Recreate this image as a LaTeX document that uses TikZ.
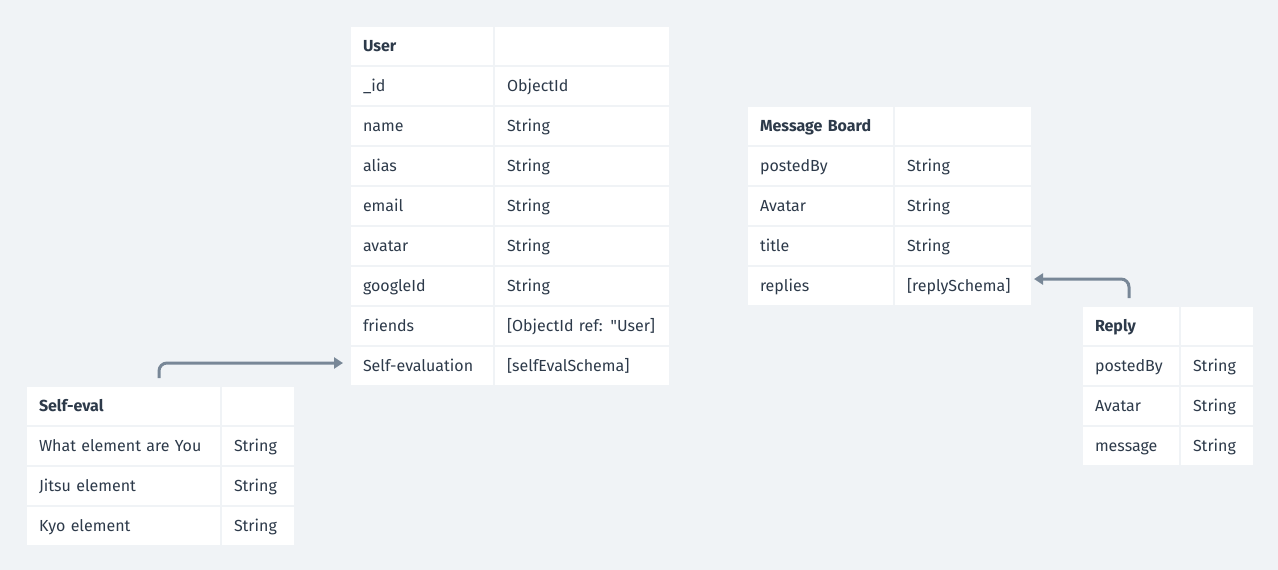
\documentclass[tikz,border=0pt]{standalone}
\usepackage{fontspec}
\newfontfamily\ff{Fira Sans}
\usetikzlibrary{arrows.meta}
\definecolor{bgc}{HTML}{F0F3F6}
\definecolor{txt}{HTML}{2D3A4A}
\definecolor{arr}{HTML}{788797}
\tikzset{
  cell/.style={rectangle, fill=white, draw=bgc, line width=2pt, anchor=north west,
    minimum height=40pt, inner xsep=13pt, inner ysep=0pt, align=left,
    text height=13pt, text depth=2pt,
    text=txt, font=\ff\fontsize{16}{18}\selectfont},
  hdr/.style={cell, font=\ff\fontsize{16}{18}\selectfont\bfseries},
  conn/.style={draw=arr, line width=3pt, rounded corners=8pt, -{Triangle[length=9pt,width=11pt]}}
}
\begin{document}
\begin{tikzpicture}[x=1pt,y=-1pt]
\fill[bgc] (0,0) rectangle (1278,570);
\useasboundingbox (0,0) rectangle (1278,570);
% User table
\node[hdr, text width=118pt] (u0a) at (349,25) {User};
\node[cell, text width=150pt] (u0b) at (493,25) {};
\node[cell, text width=118pt] (u1a) at (349,65) {\_id};
\node[cell, text width=150pt] (u1b) at (493,65) {ObjectId};
\node[cell, text width=118pt] (u2a) at (349,105) {name};
\node[cell, text width=150pt] (u2b) at (493,105) {String};
\node[cell, text width=118pt] (u3a) at (349,145) {alias};
\node[cell, text width=150pt] (u3b) at (493,145) {String};
\node[cell, text width=118pt] (u4a) at (349,185) {email};
\node[cell, text width=150pt] (u4b) at (493,185) {String};
\node[cell, text width=118pt] (u5a) at (349,225) {avatar};
\node[cell, text width=150pt] (u5b) at (493,225) {String};
\node[cell, text width=118pt] (u6a) at (349,265) {googleId};
\node[cell, text width=150pt] (u6b) at (493,265) {String};
\node[cell, text width=118pt] (u7a) at (349,305) {friends};
\node[cell, text width=150pt] (u7b) at (493,305) {[ObjectId ref: "User]};
\node[cell, text width=118pt] (u8a) at (349,345) {Self-evaluation};
\node[cell, text width=150pt] (u8b) at (493,345) {[selfEvalSchema]};
% Message Board
\node[hdr, text width=121pt] (m0a) at (746,105) {Message Board};
\node[cell, text width=112pt] (m0b) at (893,105) {};
\node[cell, text width=121pt] (m1a) at (746,145) {postedBy};
\node[cell, text width=112pt] (m1b) at (893,145) {String};
\node[cell, text width=121pt] (m2a) at (746,185) {Avatar};
\node[cell, text width=112pt] (m2b) at (893,185) {String};
\node[cell, text width=121pt] (m3a) at (746,225) {title};
\node[cell, text width=112pt] (m3b) at (893,225) {String};
\node[cell, text width=121pt] (m4a) at (746,265) {replies};
\node[cell, text width=112pt] (m4b) at (893,265) {[replySchema]};
% Reply
\node[hdr, text width=72pt] (r0a) at (1081,305) {Reply};
\node[cell, text width=48pt] (r0b) at (1179,305) {};
\node[cell, text width=72pt] (r1a) at (1081,345) {postedBy};
\node[cell, text width=48pt] (r1b) at (1179,345) {String};
\node[cell, text width=72pt] (r2a) at (1081,385) {Avatar};
\node[cell, text width=48pt] (r2b) at (1179,385) {String};
\node[cell, text width=72pt] (r3a) at (1081,425) {message};
\node[cell, text width=48pt] (r3b) at (1179,425) {String};
% Self-eval
\node[hdr, text width=169pt] (s0a) at (25,385) {Self-eval};
\node[cell, text width=48pt] (s0b) at (220,385) {};
\node[cell, text width=169pt] (s1a) at (25,425) {What element are You};
\node[cell, text width=48pt] (s1b) at (220,425) {String};
\node[cell, text width=169pt] (s2a) at (25,465) {Jitsu element};
\node[cell, text width=48pt] (s2b) at (220,465) {String};
\node[cell, text width=169pt] (s3a) at (25,505) {Kyo element};
\node[cell, text width=48pt] (s3b) at (220,505) {String};
% connectors
\coordinate (c1) at ([xshift=134pt,yshift=7pt]s0a.north west);
\coordinate (c2) at ([xshift=48pt,yshift=7pt]r0a.north west);
\draw[conn] (c1) |- ([xshift=-6pt,yshift=3pt]u8a.west);
\draw[conn] (c2) |- ([xshift=1pt,yshift=7pt]m4b.east);
\end{tikzpicture}
\end{document}
